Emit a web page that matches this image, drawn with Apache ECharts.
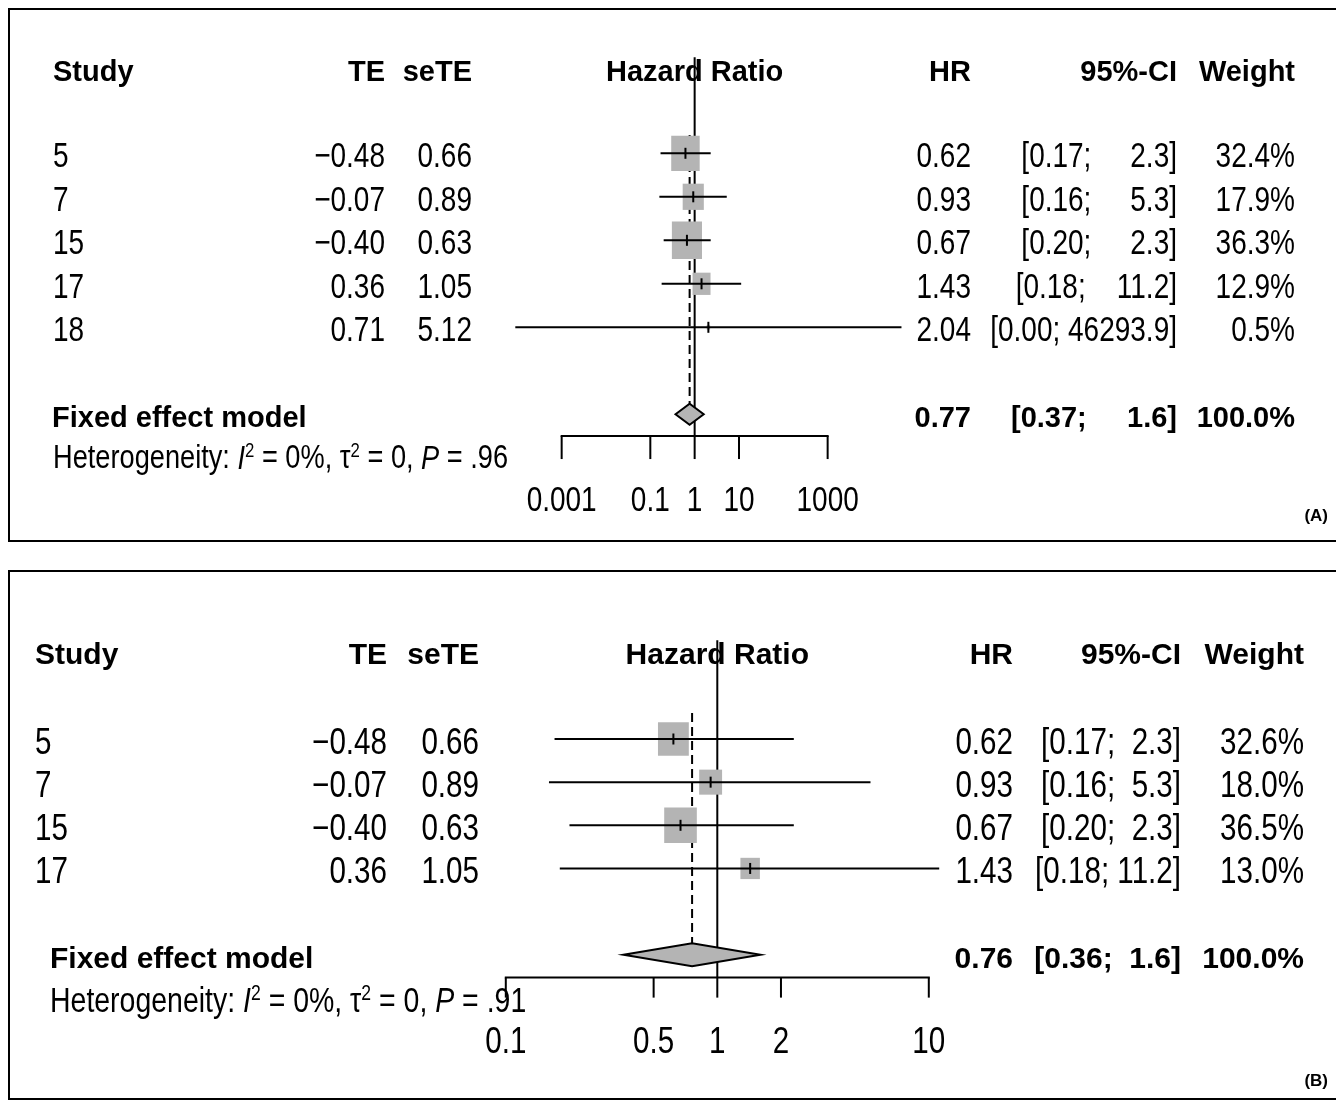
<!DOCTYPE html>
<html>
<head>
<meta charset="utf-8">
<script src="https://cdn.jsdelivr.net/npm/echarts@6/dist/echarts.min.js"></script>
<style>
    html, body { margin: 0; padding: 0; background: #fff; }
    #chart { width: 1336px; height: 1101px; }
</style>
</head>
<body>
<div id="chart"></div>
<script>
// ---- panel A data ----
const studiesA = ['5', '7', '15', '17', '18'];
const teA = [-0.48, -0.07, -0.40, 0.36, 0.71];
const seA = [0.66, 0.89, 0.63, 1.05, 5.12];
const hrA = [0.62, 0.93, 0.67, 1.43, 2.04];
const lowerA = [0.17, 0.16, 0.20, 0.18, 0.00009];
const upperA = [2.3, 5.3, 2.3, 11.2, 46293.9];
const weightA = [32.4, 17.9, 36.3, 12.9, 0.5];
const fixedA = [0.37, 0.77, 1.6];      // lower, HR, upper
const fixedWeightA = 100.0;
const hetPA = '.96';
const ticksA = [0.001, 0.1, 1, 10, 1000];
const tickLabelsA = ['0.001', '0.1', '1', '10', '1000'];

// ---- panel B data ----
const studiesB = ['5', '7', '15', '17'];
const teB = [-0.48, -0.07, -0.40, 0.36];
const seB = [0.66, 0.89, 0.63, 1.05];
const hrB = [0.62, 0.93, 0.67, 1.43];
const lowerB = [0.17, 0.16, 0.20, 0.18];
const upperB = [2.3, 5.3, 2.3, 11.2];
const weightB = [32.6, 18.0, 36.5, 13.0];
const fixedB = [0.36, 0.76, 1.6];
const fixedWeightB = 100.0;
const hetPB = '.91';
const ticksB = [0.1, 0.5, 1, 2, 10];
const tickLabelsB = ['0.1', '0.5', '1', '2', '10'];

const FONT = '"Liberation Sans", Arial, sans-serif';
const GREY = '#b4b4b4';

// layout of each panel (pixels / row units)
const layoutA = {
    grid: { left: 473, width: 443.3, top: 22.8, height: 522 },
    xMin: 1e-5, xMax: 1e5, yMin: -3, yMax: 9,
    cols: { study: 53, te: 385, se: 472, hr: 971, ci: 1177, weight: 1295 },
    fixedX: 52, hetX: 53,
    headerRow: -1.84, refTop: -2.21, dashTop: -0.42, fixedRow: 6,
    axisRow: 6.5, tickLen: 23, labelRow: 8.0, hetRow: 7.03,
    fs: 35, narrow: 0.8, bold: 29, hetFs: 34, textDy: 4.5, fixedDy: 5,
    boxW: 5.0, boxH: 6.2, diaH: 10.5, ciWidth: 7
};
const layoutB = {
    grid: { left: 294.3, width: 846, top: 609.55, height: 474.65 },
    xMin: 0.01, xMax: 100, yMin: -3, yMax: 8,
    cols: { study: 35, te: 387, se: 479, hr: 1013, ci: 1181, weight: 1304 },
    fixedX: 50, hetX: 50,
    headerRow: -1.93, refTop: -2.29, dashTop: -0.6, fixedRow: 5,
    axisRow: 5.53, tickLen: 20, labelRow: 7.05, hetRow: 6.1,
    fs: 37, narrow: 0.8, bold: 30, hetFs: 35.6, textDy: 4.5, fixedDy: 5,
    boxW: 5.4, boxH: 5.9, diaH: 11.5, ciWidth: 4
};

const panelA = {
    studies: studiesA, te: teA, se: seA, hr: hrA, lower: lowerA, upper: upperA,
    weight: weightA, fixed: fixedA, fixedWeight: fixedWeightA, hetP: hetPA,
    ticks: ticksA, tickLabels: tickLabelsA
};
const panelB = {
    studies: studiesB, te: teB, se: seB, hr: hrB, lower: lowerB, upper: upperB,
    weight: weightB, fixed: fixedB, fixedWeight: fixedWeightB, hetP: hetPB,
    ticks: ticksB, tickLabels: tickLabelsB
};

function fmtTE(v) {
    return (v < 0 ? '\u2212' : '') + Math.abs(v).toFixed(2);
}
function fmtCI(lo, up, width) {
    return '[' + lo.toFixed(2) + '; ' + up.toFixed(1).padStart(width, ' ') + ']';
}

// text element; regular text is squeezed horizontally (narrow face)
function txt(x, y, text, size, align, bold, narrow) {
    return {
        type: 'text', x: x, y: y, scaleX: bold ? 1 : narrow,
        style: {
            text: text, x: 0, y: 0, fill: '#000',
            fontFamily: FONT, fontSize: size, fontWeight: bold ? 'bold' : 'normal',
            align: align, verticalAlign: 'middle',
            textAlign: align, textVerticalAlign: 'middle'
        }
    };
}

function line(x1, y1, x2, y2, dash) {
    return {
        type: 'line',
        shape: { x1: x1, y1: y1, x2: x2, y2: y2 },
        style: { stroke: '#000', lineWidth: 2, lineDash: dash || null }
    };
}

function buildPanel(P, L, g) {
    const base = { type: 'custom', coordinateSystem: 'cartesian2d', xAxisIndex: g, yAxisIndex: g, silent: true, clip: false };
    const series = [];
    const nw = L.narrow;

    // solid reference line at HR = 1
    series.push({
        ...base, z: 2,
        data: [[1, L.refTop, L.axisRow]],
        encode: { x: 0, y: [1, 2] },
        renderItem: (params, api) => {
            const a = api.coord([api.value(0), api.value(1)]);
            const b = api.coord([api.value(0), api.value(2)]);
            return line(a[0], a[1], b[0], b[1]);
        }
    });

    // dashed line at the pooled estimate
    series.push({
        ...base, z: 2,
        data: [[P.fixed[1], L.dashTop, L.fixedRow]],
        encode: { x: 0, y: [1, 2] },
        renderItem: (params, api) => {
            const a = api.coord([api.value(0), api.value(1)]);
            const b = api.coord([api.value(0), api.value(2)]);
            return line(a[0], a[1], b[0], b[1] - L.diaH, [9, 5]);
        }
    });

    // weight squares
    series.push({
        ...base, z: 3,
        data: P.hr.map((v, i) => [v, i, P.weight[i]]),
        encode: { x: 0, y: 1 },
        renderItem: (params, api) => {
            const c = api.coord([api.value(0), api.value(1)]);
            const s = Math.sqrt(api.value(2));
            const w = L.boxW * s, h = L.boxH * s;
            return {
                type: 'rect',
                shape: { x: c[0] - w / 2, y: c[1] - h / 2, width: w, height: h },
                style: { fill: GREY }
            };
        }
    });

    // confidence interval lines + point tick
    series.push({
        ...base, z: 4,
        data: P.lower.map((lo, i) => [lo, P.upper[i], i, P.hr[i]]),
        encode: { x: [0, 1], y: 2 },
        renderItem: (params, api) => {
            const a = api.coord([api.value(0), api.value(2)]);
            const b = api.coord([api.value(1), api.value(2)]);
            const c = api.coord([api.value(3), api.value(2)]);
            return {
                type: 'group',
                children: [
                    line(a[0], a[1], b[0], b[1]),
                    line(c[0], c[1] - 5.5, c[0], c[1] + 5.5)
                ]
            };
        }
    });

    // pooled diamond
    series.push({
        ...base, z: 5,
        data: [[P.fixed[0], P.fixed[1], P.fixed[2], L.fixedRow]],
        encode: { x: [0, 1, 2], y: 3 },
        renderItem: (params, api) => {
            const row = api.value(3);
            const l = api.coord([api.value(0), row]);
            const m = api.coord([api.value(1), row]);
            const r = api.coord([api.value(2), row]);
            return {
                type: 'polygon',
                shape: { points: [[l[0], l[1]], [m[0], m[1] - L.diaH], [r[0], r[1]], [m[0], m[1] + L.diaH]] },
                style: { fill: GREY, stroke: '#000', lineWidth: 2 }
            };
        }
    });

    // x axis line
    series.push({
        ...base, z: 2,
        data: [[P.ticks[0], P.ticks[P.ticks.length - 1], L.axisRow]],
        encode: { x: [0, 1], y: 2 },
        renderItem: (params, api) => {
            const a = api.coord([api.value(0), api.value(2)]);
            const b = api.coord([api.value(1), api.value(2)]);
            return line(a[0] - 1, a[1], b[0] + 1, b[1]);
        }
    });

    // x axis ticks and labels
    series.push({
        ...base, z: 2,
        data: P.ticks.map(t => [t, L.axisRow]),
        encode: { x: 0, y: 1 },
        renderItem: (params, api) => {
            const c = api.coord([api.value(0), api.value(1)]);
            const ly = api.coord([api.value(0), L.labelRow])[1];
            return {
                type: 'group',
                children: [
                    line(c[0], c[1], c[0], c[1] + L.tickLen),
                    txt(c[0], ly, P.tickLabels[params.dataIndex], L.fs, 'center', false, nw)
                ]
            };
        }
    });

    // study table
    const cw = L.ciWidth;
    series.push({
        ...base, z: 6,
        data: P.studies.map((s, i) => [1, i]),
        encode: { x: 0, y: 1 },
        renderItem: (params, api) => {
            const i = params.dataIndex;
            const y = api.coord([1, api.value(1)])[1] + L.textDy;
            return {
                type: 'group',
                children: [
                    txt(L.cols.study, y, P.studies[i], L.fs, 'left', false, nw),
                    txt(L.cols.te, y, fmtTE(P.te[i]), L.fs, 'right', false, nw),
                    txt(L.cols.se, y, P.se[i].toFixed(2), L.fs, 'right', false, nw),
                    txt(L.cols.hr, y, P.hr[i].toFixed(2), L.fs, 'right', false, nw),
                    txt(L.cols.ci, y, fmtCI(P.lower[i], P.upper[i], cw), L.fs, 'right', false, nw),
                    txt(L.cols.weight, y, P.weight[i].toFixed(1) + '%', L.fs, 'right', false, nw)
                ]
            };
        }
    });

    // header, pooled row and heterogeneity
    series.push({
        ...base, z: 6,
        data: [[1, L.headerRow]],
        encode: { x: 0, y: 1 },
        renderItem: (params, api) => {
            const h = api.coord([1, L.headerRow]);
            const fy = api.coord([1, L.fixedRow])[1] + L.fixedDy;
            const hy = api.coord([1, L.hetRow])[1];
            const het = {
                type: 'text', x: L.hetX, y: hy, scaleX: nw,
                style: {
                    text: 'Heterogeneity: {it|I}{sup|2} = 0%, \u03c4{sup|2} = 0, {it|P} = ' + P.hetP,
                    x: 0, y: 0, fill: '#000', fontFamily: FONT, fontSize: L.hetFs,
                    align: 'left', verticalAlign: 'middle', textAlign: 'left', textVerticalAlign: 'middle',
                    rich: {
                        it: { fontStyle: 'italic', fontFamily: FONT, fontSize: L.hetFs },
                        sup: { fontFamily: FONT, fontSize: Math.round(L.hetFs * 0.62), verticalAlign: 'top', padding: [0, 0, 16, 0] }
                    }
                }
            };
            return {
                type: 'group',
                children: [
                    txt(L.cols.study, h[1], 'Study', L.bold, 'left', true),
                    txt(L.cols.te, h[1], 'TE', L.bold, 'right', true),
                    txt(L.cols.se, h[1], 'seTE', L.bold, 'right', true),
                    txt(h[0], h[1], 'Hazard Ratio', L.bold, 'center', true),
                    txt(L.cols.hr, h[1], 'HR', L.bold, 'right', true),
                    txt(L.cols.ci, h[1], '95%-CI', L.bold, 'right', true),
                    txt(L.cols.weight, h[1], 'Weight', L.bold, 'right', true),
                    txt(L.fixedX, fy, 'Fixed effect model', L.bold, 'left', true),
                    txt(L.cols.hr, fy, P.fixed[1].toFixed(2), L.bold, 'right', true),
                    txt(L.cols.ci, fy, fmtCI(P.fixed[0], P.fixed[2], cw), L.bold, 'right', true),
                    txt(L.cols.weight, fy, P.fixedWeight.toFixed(1) + '%', L.bold, 'right', true),
                    het
                ]
            };
        }
    });

    return series;
}

const chart = echarts.init(document.getElementById('chart'));

const axisX = (L, g) => ({ type: 'log', logBase: 10, min: L.xMin, max: L.xMax, gridIndex: g, show: false });
const axisY = (L, g) => ({ type: 'value', min: L.yMin, max: L.yMax, inverse: true, gridIndex: g, show: false });

const option = {
    animation: false,
    backgroundColor: '#fff',
    grid: [layoutA.grid, layoutB.grid],
    xAxis: [axisX(layoutA, 0), axisX(layoutB, 1)],
    yAxis: [axisY(layoutA, 0), axisY(layoutB, 1)],
    graphic: [
        { type: 'rect', shape: { x: 9, y: 9, width: 1340, height: 532 }, style: { fill: 'none', stroke: '#000', lineWidth: 2 } },
        { type: 'rect', shape: { x: 9, y: 571, width: 1340, height: 528 }, style: { fill: 'none', stroke: '#000', lineWidth: 2 } },
        { type: 'text', right: 8, top: 508, style: { text: '(A)', fontFamily: FONT, fontWeight: 'bold', fontSize: 17, fill: '#000' } },
        { type: 'text', right: 8, top: 1073, style: { text: '(B)', fontFamily: FONT, fontWeight: 'bold', fontSize: 17, fill: '#000' } }
    ],
    series: [...buildPanel(panelA, layoutA, 0), ...buildPanel(panelB, layoutB, 1)]
};

chart.setOption(option);
</script>
</body>
</html>
